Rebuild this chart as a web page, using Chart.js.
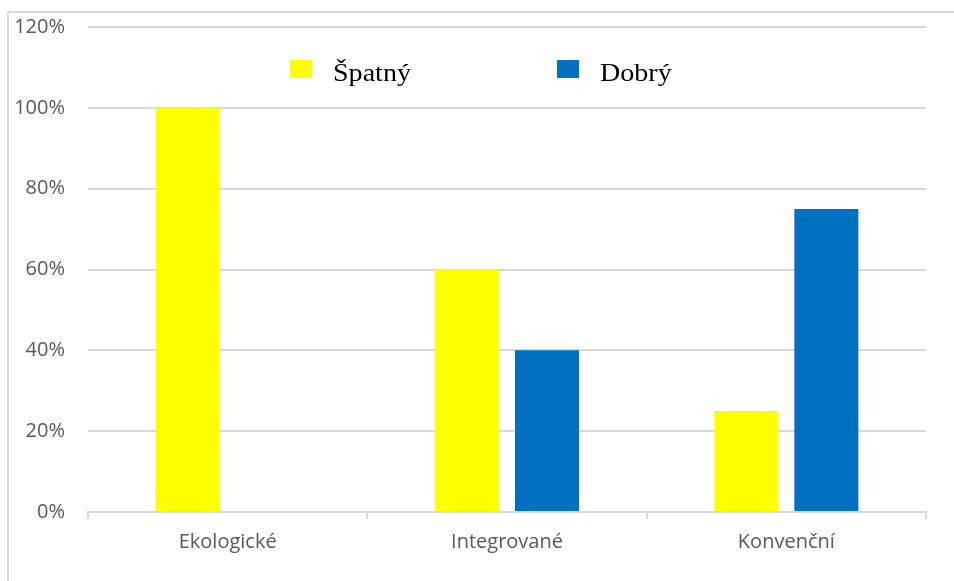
<!DOCTYPE html>
<html>
<head>
<meta charset="utf-8">
<script src="https://cdn.jsdelivr.net/npm/chart.js@4"></script>
<style>
  html, body { margin: 0; padding: 0; background: #fff; }
  #wrap { width: 954px; height: 581px; position: relative; }
</style>
</head>
<body>
<div id="wrap"><canvas id="chart" width="954" height="581"></canvas></div>
<script>
const categories = ['Ekologické', 'Integrované', 'Konvenční'];
const seriesNames = ['Špatný', 'Dobrý'];
const spatny = [100, 60, 25];
const dobry = [0, 40, 75];
const yMax = 120;
const yStep = 20;

const COLORS = {
    yellow: '#ffff00',
    blue:   '#0070c0',
    text:   '#595959',
    grid:   '#d9d9d9',
};

// outer frame (left + top edge visible in the original)
const framePlugin = {
    id: 'frame',
    beforeDraw(chart) {
        const c = chart.ctx;
        c.save();
        c.strokeStyle = COLORS.grid;
        c.lineWidth = 2;
        c.beginPath();
        c.moveTo(8, 581);
        c.lineTo(8, 12);
        c.lineTo(954, 12);
        c.stroke();
        c.restore();
    },
};

// legend drawn inside the plot, widely spaced, serif text
const legendPlugin = {
    id: 'wideLegend',
    afterDraw(chart) {
        const c = chart.ctx;
        const xs = [290, 557];
        c.save();
        chart.data.datasets.forEach((ds, i) => {
            c.fillStyle = ds.backgroundColor;
            c.fillRect(xs[i], 60, 22, 18);
            c.save();
            c.translate(xs[i] + 43, 81);
            c.scale(1.08, 1);
            c.fillStyle = '#000';
            c.font = "26px 'Liberation Serif', 'Times New Roman', serif";
            c.textBaseline = 'alphabetic';
            c.fillText(ds.label, 0, 0);
            c.restore();
        });
        c.restore();
    },
};

new Chart(document.getElementById('chart'), {
    type: 'bar',
    data: {
        labels: categories,
        datasets: [
            {
                label: seriesNames[0],
                data: spatny,
                backgroundColor: COLORS.yellow,
                categoryPercentage: 0.573,
                barPercentage: 0.8,
            },
            {
                label: seriesNames[1],
                data: dobry,
                backgroundColor: COLORS.blue,
                categoryPercentage: 0.573,
                barPercentage: 0.8,
            },
        ],
    },
    options: {
        responsive: false,
        animation: false,
        layout: { padding: { top: 27, right: 28, bottom: 0, left: 0 } },
        plugins: {
            legend: { display: false },
            tooltip: { enabled: false },
        },
        scales: {
            x: {
                afterFit(scale) { scale.height = 69; },
                grid: {
                    offset: true,
                    drawOnChartArea: false,
                    drawTicks: true,
                    tickLength: 7,
                    color: COLORS.grid,
                    lineWidth: 2,
                },
                border: { display: true, color: COLORS.grid, width: 2 },
                ticks: {
                    color: COLORS.text,
                    font: { family: "'Open Sans', sans-serif", size: 20 },
                    padding: 11,
                },
            },
            y: {
                min: 0,
                max: yMax,
                afterFit(scale) {
                    scale.width = 88;
                    scale.paddingTop = 0;
                    scale.paddingBottom = 0;
                },
                grid: {
                    drawTicks: false,
                    color: COLORS.grid,
                    lineWidth: 2,
                },
                border: { display: false },
                ticks: {
                    stepSize: yStep,
                    padding: 23,
                    color: COLORS.text,
                    font: { family: "'Open Sans', sans-serif", size: 20 },
                    callback: v => v + '%',
                },
            },
        },
    },
    plugins: [framePlugin, legendPlugin],
});
</script>
</body>
</html>
